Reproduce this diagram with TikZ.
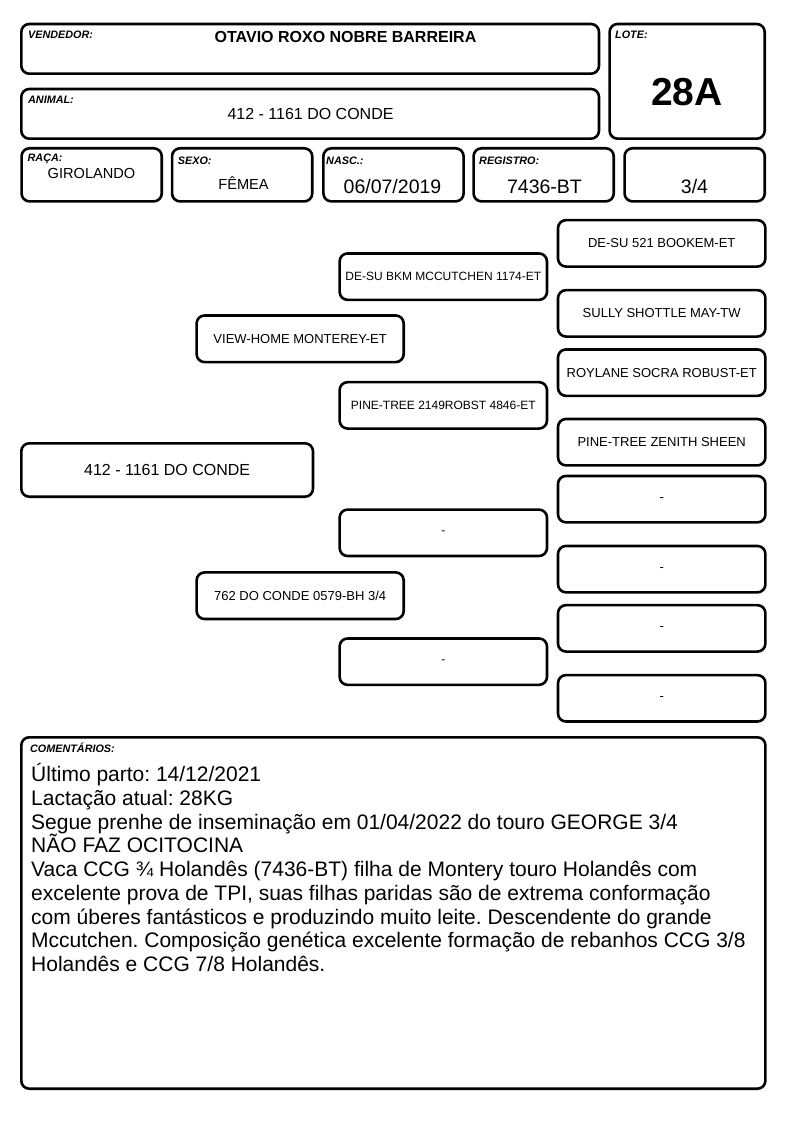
\documentclass[tikz,border=0pt]{standalone}
\usepackage{fontspec}
\setmainfont{Liberation Sans}
\frenchspacing
\begin{document}
\begin{tikzpicture}[x=1pt,y=-1pt,
  box/.style={draw, line width=2.6pt, rounded corners=8pt, inner sep=0pt, align=center},
  hbox/.style={box, minimum width=140.2pt, minimum height=53.1pt},
  ped2/.style={box, minimum width=207.1pt, minimum height=46.6pt, font=\fontsize{13}{15}\selectfont},
  ped3/.style={box, minimum width=207.4pt, minimum height=46.4pt, font=\fontsize{12}{14}\selectfont},
  ped4/.style={box, minimum width=207.4pt, minimum height=46.4pt, font=\fontsize{13}{15}\selectfont},
  lbl/.style={anchor=base west, inner sep=0pt, font=\fontsize{10.8}{12}\selectfont\bfseries\itshape},
  txt/.style={anchor=base, inner sep=0pt},
  cline/.style={anchor=base west, inner sep=0pt, font=\fontsize{21}{24}\selectfont}]
\useasboundingbox (0,0) rectangle (794,1123);
% header boxes
\node[box, minimum width=577.7pt, minimum height=49.7pt] (vend) at (310.15,48.85) {};
\node[box, minimum width=577.7pt, minimum height=49.7pt] (anim) at (310.15,113.85) {};
\node[box, minimum width=155.1pt, minimum height=114.7pt] (lote) at (687.15,81.35) {};
\node[hbox] (raca) at (91.65,174.85) {};
\node[hbox] (sexo) at (242.15,174.85) {};
\node[hbox] (nasc) at (393.5,174.85) {};
\node[hbox] (reg) at (543.65,174.85) {};
\node[hbox] (frac) at (694.65,174.85) {};
% header labels
\node[lbl] (lvend) at (28,39) {VENDEDOR:};
\node[lbl] (lanim) at (28,103.3) {ANIMAL:};
\node[lbl] (llote) at (615,39) {LOTE:};
\node[lbl] (lraca) at (27.5,161.8) {RAÇA:};
\node[lbl] (lsexo) at (177.7,165) {SEXO:};
\node[lbl] (lnasc) at (326,165) {NASC.:};
\node[lbl] (lreg) at (479,165) {REGISTRO:};
% header values
\node[txt, font=\fontsize{16}{18}\selectfont\bfseries] (tvend) at (345.5,42.7) {OTAVIO ROXO NOBRE BARREIRA};
\node[txt, font=\fontsize{16}{18}\selectfont] (tanim) at (310.5,119.3) {412 - 1161 DO CONDE};
\node[txt, font=\fontsize{39}{44}\selectfont\bfseries] (tlote) at (687,106) {28A};
\node[txt, font=\fontsize{14.6}{17}\selectfont] (traca) at (91.5,178.3) {GIROLANDO};
\node[txt, font=\fontsize{14.6}{17}\selectfont] (tsexo) at (243.5,189.3) {FÊMEA};
\node[txt, font=\fontsize{19.5}{22}\selectfont] (tnasc) at (392.5,193.3) {06/07/2019};
\node[txt, font=\fontsize{19.5}{22}\selectfont] (treg) at (544.5,193.3) {7436-BT};
\node[txt, font=\fontsize{19.5}{22}\selectfont] (tfrac) at (694.5,193.3) {3/4};
% pedigree
\node[box, minimum width=291.7pt, minimum height=53.4pt, font=\fontsize{16}{18}\selectfont] (p1) at (167.15,470) {412 - 1161 DO CONDE};
\node[ped2] (p2a) at (300.15,338.8) {VIEW-HOME MONTEREY-ET};
\node[ped2] (p2b) at (300.15,595.7) {762 DO CONDE 0579-BH 3/4};
\node[ped3] (p3a) at (443.3,276.65) {DE-SU BKM MCCUTCHEN 1174-ET};
\node[ped3] (p3b) at (443.3,405.35) {PINE-TREE 2149ROBST 4846-ET};
\node[ped3] (p3c) at (443.3,532.8) {-};
\node[ped3] (p3d) at (443.3,661.65) {-};
\node[ped4] (p4a) at (661.7,243.35) {DE-SU 521 BOOKEM-ET};
\node[ped4] (p4b) at (661.7,313.35) {SULLY SHOTTLE MAY-TW};
\node[ped4] (p4c) at (661.7,372.65) {ROYLANE SOCRA ROBUST-ET};
\node[ped4] (p4d) at (661.7,442.2) {PINE-TREE ZENITH SHEEN};
\node[ped4] (p4e) at (661.7,499.15) {-};
\node[ped4] (p4f) at (661.7,569.15) {-};
\node[ped4] (p4g) at (661.7,628.35) {-};
\node[ped4] (p4h) at (661.7,698.3) {-};
% comments
\node[box, minimum width=744.1pt, minimum height=351.4pt] (com) at (393.35,913) {};
\node[lbl] (lcom) at (30,752.7) {COMENTÁRIOS:};
\node[cline] (c1) at (31,781.7) {Último parto: 14/12/2021};
\node[cline] (c2) at (31,805.45) {Lactação atual: 28KG};
\node[cline] (c3) at (31,829.2) {Segue prenhe de inseminação em 01/04/2022 do touro GEORGE 3/4};
\node[cline] (c4) at (31,852.95) {NÃO FAZ OCITOCINA};
\node[cline] (c5) at (31,876.7) {Vaca CCG ¾ Holandês (7436-BT) filha de Montery touro Holandês com};
\node[cline] (c6) at (31,900.45) {excelente prova de TPI, suas filhas paridas são de extrema conformação};
\node[cline] (c7) at (31,924.2) {com úberes fantásticos e produzindo muito leite. Descendente do grande};
\node[cline] (c8) at (31,947.95) {Mccutchen. Composição genética excelente formação de rebanhos CCG 3/8};
\node[cline] (c9) at (31,971.7) {Holandês e CCG 7/8 Holandês.};
\end{tikzpicture}
\end{document}
